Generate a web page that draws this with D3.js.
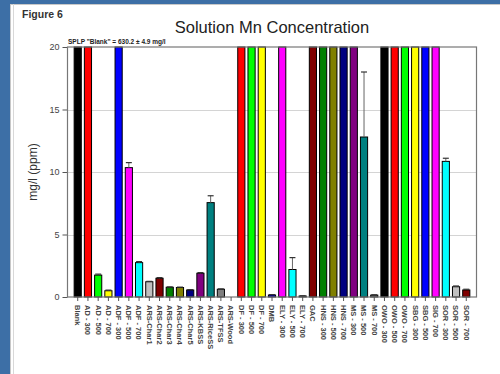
<!DOCTYPE html>
<html>
<head>
<meta charset="utf-8">
<script src="https://cdn.jsdelivr.net/npm/d3@7"></script>
<style>
  html, body { margin: 0; padding: 0; background: #3d6fa6; }
  svg { display: block; }
  text { font-family: "Liberation Sans", Arial, sans-serif; }
</style>
</head>
<body>
<svg id="chart" width="500" height="374"></svg>
<script>
// Sample names along the x axis
const categories = [
  "Blank", "AD - 300", "AD - 500", "AD - 700", "ADF - 300", "ADF - 500", "ADF - 700",
  "ARS-Char1", "ARS-Char2", "ARS-Char3", "ARS-Char4", "ARS-Char5", "ARS-KBSS",
  "ARS-RiceSS", "ARS-TFSS", "ARS-Wood", "DF - 300", "DF - 500", "DF - 700", "DMB",
  "ELY - 300", "ELY - 500", "ELY - 700", "GAC", "HNS - 300", "HNS - 500", "HNS - 700",
  "MS - 300", "MS - 500", "MS - 700", "OWO - 300", "OWO - 500", "OWO - 700",
  "SBG - 300", "SBG - 500", "SIG - 700", "SOR - 300", "SOR - 500", "SOR - 700"
];

// Mean Mn concentration, mg/l (values above 20 run off the top of the axis)
const values = [
  630.2, 25, 1.75, 0.5, 25, 10.35, 2.75,
  1.22, 1.5, 0.78, 0.76, 0.56, 1.9,
  7.55, 0.62, 0, 25, 25, 25, 0.16,
  25, 2.2, 0.08, 25, 25, 25, 25,
  25, 12.8, 0.15, 25, 25, 25,
  25, 25, 25, 10.85, 0.82, 0.56
];

// Standard deviation, mg/l
const errors = [
  4.9, 0, 0.08, 0.05, 0, 0.4, 0.08,
  0.03, 0.05, 0.03, 0.03, 0.03, 0.05,
  0.55, 0.03, 0, 0, 0, 0, 0.03,
  0, 0.95, 0.02, 0, 0, 0, 0,
  0, 5.2, 0.03, 0, 0, 0,
  0, 0, 0, 0.25, 0.06, 0.06
];

const yTicks = [0, 5, 10, 15, 20];

// Repeating 15-colour fill cycle
const palette = ["#000000", "#ff0000", "#00ff00", "#ffff00", "#0000ff", "#ff00ff", "#00ffff",
  "#c0c0c0", "#800000", "#008000", "#808000", "#000080", "#800080", "#008080", "#808080"];

const svg = d3.select("#chart");

// White page panel
svg.append("rect").attr("x", 10.5).attr("y", 4.5).attr("width", 495).attr("height", 375)
  .attr("fill", "#ffffff").attr("stroke", "#c8c8c8");
svg.append("line").attr("x1", 13.5).attr("x2", 13.5).attr("y1", 4).attr("y2", 374)
  .attr("stroke", "#d8d8d8");

const plot = { left: 67.5, right: 476.5, top: 47, bottom: 297 };

const x = d3.scaleBand().domain(categories)
  .range([plot.left, plot.right]).paddingInner(0.3).paddingOuter(0.65);
const y = d3.scaleLinear().domain([0, 20]).range([plot.bottom, plot.top]).clamp(true);

svg.append("text").attr("x", 22).attr("y", 18)
  .attr("font-size", 10.5).attr("font-weight", "bold").attr("fill", "#333")
  .text("Figure 6");

svg.append("text").attr("x", 272).attr("y", 33).attr("text-anchor", "middle")
  .attr("font-size", 16.5).attr("fill", "#222")
  .text("Solution Mn Concentration");

svg.append("text").attr("x", 68).attr("y", 44)
  .attr("font-size", 6.5).attr("font-weight", "bold").attr("fill", "#222")
  .text("SPLP \"Blank\" = 630.2 \u00b1 4.9 mg/l");

// Gridlines
svg.append("g").selectAll("line").data(yTicks.filter(t => t > 0 && t < 20)).join("line")
  .attr("x1", plot.left).attr("x2", plot.right)
  .attr("y1", d => Math.round(y(d)) + 0.5).attr("y2", d => Math.round(y(d)) + 0.5)
  .attr("stroke", "#d4d4d4").attr("stroke-width", 1);

// Y axis
const yAxis = svg.append("g").attr("transform", `translate(${plot.left},0)`)
  .call(d3.axisLeft(y).tickValues(yTicks).tickSize(5).tickPadding(3));
yAxis.select(".domain").remove();
yAxis.selectAll("line").attr("stroke", "#555");
yAxis.selectAll("text").attr("font-size", 9).attr("fill", "#444")
  .attr("font-family", "'Liberation Sans', Arial, sans-serif");

svg.append("text")
  .attr("transform", `translate(37,${(plot.top + plot.bottom) / 2}) rotate(-90)`)
  .attr("text-anchor", "middle").attr("font-size", 12).attr("fill", "#333")
  .text("mg/l (ppm)");

// Bars
svg.append("g").selectAll("rect").data(categories).join("rect")
  .attr("x", d => x(d))
  .attr("y", (d, i) => y(values[i]))
  .attr("width", x.bandwidth())
  .attr("height", (d, i) => y(0) - y(values[i]))
  .attr("fill", (d, i) => palette[i % palette.length])
  .attr("stroke", "#000").attr("stroke-width", 1)
  .attr("display", (d, i) => values[i] > 0 ? null : "none");

// Error bars (upper half), only where the bar stays on scale
const eb = svg.append("g");
categories.forEach((c, i) => {
  if (errors[i] <= 0 || values[i] >= 20) return;
  const cx = x(c) + x.bandwidth() / 2;
  const top = y(values[i] + errors[i]);
  eb.append("line").attr("x1", cx).attr("x2", cx)
    .attr("y1", y(values[i])).attr("y2", top)
    .attr("stroke", "#666").attr("stroke-width", 1);
  eb.append("line").attr("x1", cx - 3).attr("x2", cx + 3)
    .attr("y1", top).attr("y2", top)
    .attr("stroke", "#333").attr("stroke-width", 1.2);
});

// Plot frame
svg.append("rect").attr("x", plot.left).attr("y", plot.top)
  .attr("width", plot.right - plot.left).attr("height", plot.bottom - plot.top)
  .attr("fill", "none").attr("stroke", "#777").attr("stroke-width", 1.2);

// X axis ticks and rotated labels
const xAxis = svg.append("g").attr("transform", `translate(0,${plot.bottom})`)
  .call(d3.axisBottom(x).tickSize(4).tickPadding(2));
xAxis.select(".domain").remove();
xAxis.selectAll("line").attr("stroke", "#555");
xAxis.selectAll("text")
  .attr("font-size", 7.5).attr("font-weight", "bold").attr("fill", "#444")
  .attr("font-family", "'Liberation Sans', Arial, sans-serif")
  .attr("text-anchor", "start").attr("dy", "0.35em")
  .attr("transform", "rotate(90)")
  .attr("x", 8).attr("y", 0);
</script>
</body>
</html>
